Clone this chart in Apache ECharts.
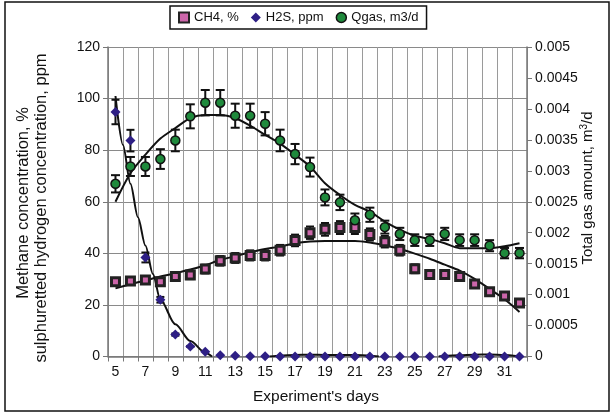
<!DOCTYPE html>
<html>
<head>
<meta charset="utf-8">
<script src="https://cdn.jsdelivr.net/npm/echarts@6/dist/echarts.min.js"></script>
<style>
  html, body { margin: 0; padding: 0; background: #fff; }
  #chart { width: 613px; height: 414px; }
</style>
</head>
<body>
<div id="chart"></div>
<script>
// Experiment days
const days = [5, 6, 7, 8, 9, 10, 11, 12, 13, 14, 15, 16, 17, 18, 19, 20, 21, 22, 23, 24, 25, 26, 27, 28, 29, 30, 31, 32];

// Methane concentration, %
const ch4 = [29.0, 29.3, 29.7, 29.0, 31.0, 31.6, 33.9, 37.1, 38.2, 39.2, 39.2, 41.2, 45.0, 48.0,
             49.3, 50.0, 50.0, 47.3, 44.5, 41.2, 34.0, 31.8, 31.8, 31.0, 28.1, 25.1, 23.5, 20.7];

// Sulphuretted hydrogen concentration, ppm
const h2s = [94.8, 83.7, 38.4, 22.0, 8.5, 3.9, 1.8, 0.5, 0.3, 0.1, 0.1, 0, 0, 0,
             0, 0, 0, 0, 0, 0, 0, 0, 0, 0, 0, 0, 0, 0];

// Total gas amount, m3/d
const qgas = [0.00279, 0.00307, 0.00307, 0.00319, 0.00349, 0.00388, 0.00410, 0.00410, 0.00389, 0.00389,
              0.00376, 0.00349, 0.00327, 0.00306, 0.00257, 0.00249, 0.00220, 0.00229, 0.00209, 0.00198,
              0.00188, 0.00188, 0.00198, 0.00188, 0.00188, 0.00179, 0.00167, 0.00167];

// Trend lines, [day, value]
const ch4Trend = [[5, 26.4], [6, 28.0], [7, 29.5], [8, 31.0], [9, 32.3], [10, 33.7], [11, 35.4], [12, 37.4],
                  [13, 38.9], [14, 40.4], [15, 41.7], [16, 42.6], [17, 43.9], [18, 44.6], [19, 44.8], [20, 44.8],
                  [21, 44.8], [22, 44.2], [23, 43.1], [24, 41.8], [25, 39.9], [26, 37.9], [27, 35.6], [28, 33.3],
                  [29, 30.1], [30, 26.2], [31, 22.2], [32, 17.3]];
const h2sTrend = [[5, 101], [5.5, 82], [6, 67], [6.5, 54], [7, 43], [7.5, 32], [8, 22], [9, 12.5], [10, 6],
                  [11, 1.5], [11.45, 0], null,
                  [15.3, 0], [16, 0.3], [17, 0.6], [18, 0.7], [19, 0.6], [20, 0.6], [21, 0.6], [22, 0.3], [22.6, 0], null,
                  [26.6, 0], [27, 0.3], [28, 0.5], [29, 0.7], [30, 0.8], [31, 0.6], [31.6, 0.3], [32, 0]];
const qgasTrend = [[5, 0.00250], [6, 0.00296], [7, 0.00326], [8, 0.00352], [9, 0.00369], [10, 0.00385],
                   [11, 0.00390], [12, 0.00390], [13, 0.00385], [14, 0.00373], [15, 0.00358], [16, 0.00344],
                   [17, 0.00326], [18, 0.00307], [19, 0.00280], [20, 0.00261], [21, 0.00245], [22, 0.00234],
                   [23, 0.00218], [24, 0.00205], [25, 0.00195], [26, 0.00190], [27, 0.00183], [28, 0.00175],
                   [29, 0.00175], [30, 0.00175], [31, 0.00178], [32, 0.00183]];

// Tick labels
const leftTicks = [0, 20, 40, 60, 80, 100, 120];
const rightTicks = ['0', '0.0005', '0.001', '0.0015', '0.002', '0.0025', '0.003', '0.0035', '0.004', '0.0045', '0.005'];

// Percentage error bars (5 %)
const errPct = 0.05;

const FONT = '"Liberation Sans", Arial, sans-serif';
const CH4_FILL = '#cc66aa';
const H2S_FILL = '#2e1f85';
const QGAS_FILL = '#1f8a3c';

function errData(values) {
  return values.map((v, i) => [i, v * (1 - errPct), v * (1 + errPct)]);
}

function errorBarRender(capHalf) {
  return function (params, api) {
    const lo = api.coord([api.value(0), api.value(1)]);
    const hi = api.coord([api.value(0), api.value(2)]);
    if (Math.abs(hi[1] - lo[1]) < 0.5) return null;
    const style = { stroke: '#111', lineWidth: 2 };
    return {
      type: 'group',
      children: [
        { type: 'line', shape: { x1: lo[0], y1: lo[1], x2: hi[0], y2: hi[1] }, style },
        { type: 'line', shape: { x1: lo[0] - capHalf, y1: lo[1], x2: lo[0] + capHalf, y2: lo[1] }, style },
        { type: 'line', shape: { x1: hi[0] - capHalf, y1: hi[1], x2: hi[0] + capHalf, y2: hi[1] }, style }
      ]
    };
  };
}

const chart = echarts.init(document.getElementById('chart'), null, { renderer: 'canvas' });

const option = {
  animation: false,
  backgroundColor: '#fff',
  textStyle: { fontFamily: FONT },
  grid: { left: 108, right: 86, top: 47, bottom: 57.5, containLabel: false },
  legend: {
    top: 6,
    left: 170,
    itemWidth: 10,
    itemHeight: 10,
    itemGap: 12,
    padding: [5, 8, 5, 8],
    borderColor: '#111',
    borderWidth: 1.5,
    textStyle: { fontFamily: FONT, fontSize: 13, color: '#111' },
    data: [
      { name: 'CH4, %', icon: 'rect', itemStyle: { color: CH4_FILL, borderColor: '#222', borderWidth: 2 } },
      { name: 'H2S, ppm', icon: 'diamond', itemStyle: { color: H2S_FILL } },
      { name: 'Qgas, m3/d', icon: 'circle', itemStyle: { color: QGAS_FILL, borderColor: '#111', borderWidth: 1.5 } }
    ]
  },
  xAxis: [
    {
      type: 'category',
      data: days,
      boundaryGap: true,
      axisLine: { lineStyle: { color: '#777', width: 1.5 } },
      axisTick: { show: true, interval: 0, length: 5, lineStyle: { color: '#777' } },
      axisLabel: { interval: 1, fontFamily: FONT, fontSize: 14, color: '#111', margin: 9 },
      splitLine: { show: true, interval: 0, lineStyle: { color: '#9a9a9a', width: 1 } }
    },
    {
      type: 'value',
      min: 4.5,
      max: 32.5,
      show: false
    }
  ],
  yAxis: [
    {
      type: 'value',
      min: leftTicks[0],
      max: leftTicks[leftTicks.length - 1],
      interval: 20,
      axisLine: { show: true, lineStyle: { color: '#777', width: 1.5 } },
      axisTick: { show: true, length: 5, lineStyle: { color: '#777' } },
      axisLabel: { fontFamily: FONT, fontSize: 14, color: '#111', margin: 8 },
      splitLine: { show: true, lineStyle: { color: '#8a8a8a', width: 1 } }
    },
    {
      type: 'value',
      min: 0,
      max: 0.005,
      interval: 0.0005,
      position: 'right',
      axisLine: { show: true, lineStyle: { color: '#777', width: 1.5 } },
      axisTick: { show: true, length: 5, lineStyle: { color: '#777' } },
      axisLabel: {
        fontFamily: FONT, fontSize: 14, color: '#111', margin: 8,
        formatter: (v) => rightTicks[Math.round(v / 0.0005)]
      },
      splitLine: { show: false }
    }
  ],
  graphic: [
    {
      type: 'rect',
      shape: { x: 5, y: 2, width: 604, height: 409 },
      style: { fill: 'none', stroke: '#111', lineWidth: 1.5 },
      silent: true, z: 100
    },
    {
      type: 'text',
      x: 23, y: 203, rotation: Math.PI / 2,
      style: {
        text: 'Methane concentration, %', fontFamily: FONT, fontSize: 16.5, fill: '#111',
        align: 'center', verticalAlign: 'middle'
      }
    },
    {
      type: 'text',
      x: 41, y: 208, rotation: Math.PI / 2,
      style: {
        text: 'sulphuretted hydrogen concentration, ppm', fontFamily: FONT, fontSize: 16.5, fill: '#111',
        align: 'center', verticalAlign: 'middle'
      }
    },
    {
      type: 'text',
      x: 588, y: 188, rotation: Math.PI / 2,
      style: {
        text: '{n|Total gas amount, m}{s|3}{n|/d}',
        align: 'center', verticalAlign: 'middle',
        rich: {
          n: { fontFamily: FONT, fontSize: 15, fill: '#111', color: '#111' },
          s: { fontFamily: FONT, fontSize: 10, fill: '#111', color: '#111', verticalAlign: 'top', padding: [0, 0, 8, 0] }
        }
      }
    },
    {
      type: 'text',
      x: 316, y: 397,
      style: {
        text: "Experiment's days", fontFamily: FONT, fontSize: 15.5, fill: '#111',
        align: 'center', verticalAlign: 'middle'
      }
    }
  ],
  series: [
    // trend lines
    {
      name: 'CH4 trend', type: 'line', xAxisIndex: 1, yAxisIndex: 0, data: ch4Trend,
      smooth: 0.3, showSymbol: false, symbol: 'none', z: 2,
      lineStyle: { color: '#111', width: 2 }, silent: true
    },
    {
      name: 'H2S trend', type: 'line', xAxisIndex: 1, yAxisIndex: 0, data: h2sTrend,
      smooth: 0.3, smoothMonotone: 'x', connectNulls: false, showSymbol: false, symbol: 'none', z: 2,
      lineStyle: { color: '#111', width: 2 }, silent: true
    },
    {
      name: 'Qgas trend', type: 'line', xAxisIndex: 1, yAxisIndex: 1, data: qgasTrend,
      smooth: 0.3, showSymbol: false, symbol: 'none', z: 2,
      lineStyle: { color: '#111', width: 2 }, silent: true
    },
    // error bars
    {
      type: 'custom', xAxisIndex: 0, yAxisIndex: 0, data: errData(ch4), z: 3,
      renderItem: errorBarRender(4), silent: true
    },
    {
      type: 'custom', xAxisIndex: 0, yAxisIndex: 0, data: errData(h2s), z: 3,
      renderItem: errorBarRender(4), silent: true
    },
    {
      type: 'custom', xAxisIndex: 0, yAxisIndex: 1, data: errData(qgas), z: 3,
      renderItem: errorBarRender(4.5), silent: true
    },
    // markers
    {
      name: 'CH4, %', type: 'scatter', xAxisIndex: 0, yAxisIndex: 0, data: ch4,
      symbol: 'rect', symbolSize: 8, z: 5,
      itemStyle: { color: CH4_FILL, borderColor: '#222', borderWidth: 3, opacity: 1 }
    },
    {
      name: 'H2S, ppm', type: 'scatter', xAxisIndex: 0, yAxisIndex: 0, data: h2s,
      symbol: 'diamond', symbolSize: [10, 10], z: 5,
      itemStyle: { color: H2S_FILL, opacity: 1 }
    },
    {
      name: 'Qgas, m3/d', type: 'scatter', xAxisIndex: 0, yAxisIndex: 1, data: qgas,
      symbol: 'circle', symbolSize: 9, z: 5,
      itemStyle: { color: QGAS_FILL, borderColor: '#111', borderWidth: 1.5, opacity: 1 }
    }
  ]
};

chart.setOption(option);
</script>
</body>
</html>
